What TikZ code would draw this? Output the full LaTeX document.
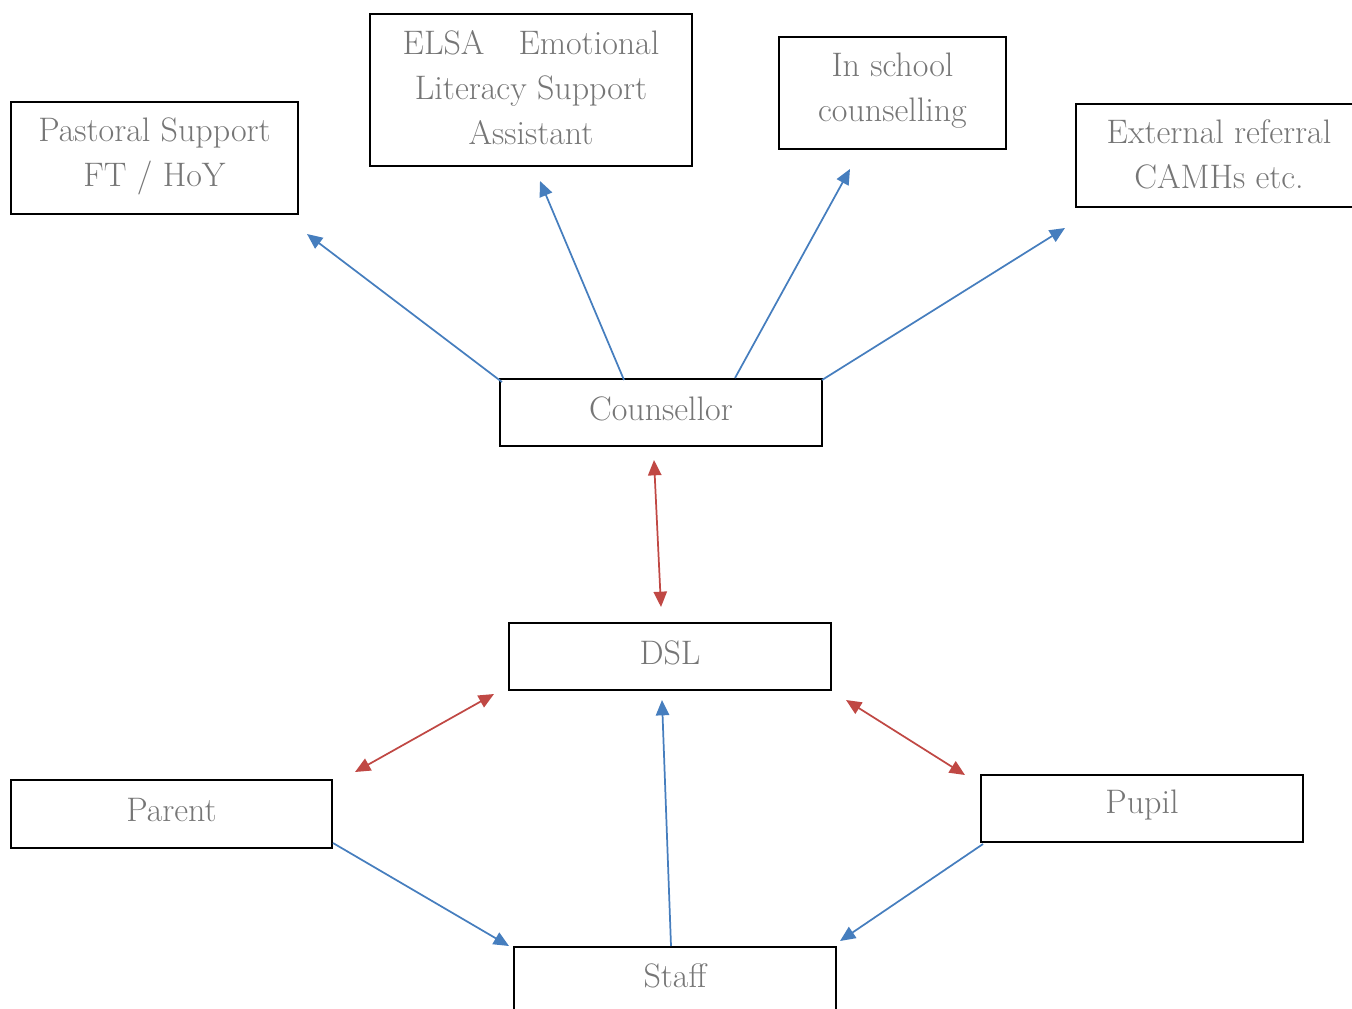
\documentclass[tikz,border=0pt]{standalone}
\usetikzlibrary{arrows.meta}
\definecolor{txtgray}{RGB}{118,118,118}
\definecolor{arrblue}{RGB}{70,126,190}
\definecolor{arrred}{RGB}{192,72,68}
\begin{document}
\begin{tikzpicture}[x=0.75pt,y=-0.75pt,
  frame/.style={draw=black,line width=1.5pt,rectangle,inner sep=0pt},
  lbl/.style={inner sep=0pt,align=center,text=txtgray,font=\fontsize{25.5}{33.75}\selectfont},
  bluearr/.style={draw=arrblue,line width=1.3pt,-{Triangle[length=11.5pt,width=10pt]}},
  redarr/.style={draw=arrred,line width=1.3pt,{Triangle[length=11.5pt,width=10pt]}-{Triangle[length=11.5pt,width=10pt]}}]
\useasboundingbox (0,0) rectangle (1352,1008);
\clip (0,0) rectangle (1352,1008);
% frames
\node[frame,minimum width=215.25pt,minimum height=84pt] (past) at (154.5,158) {};
\node[frame,minimum width=241.5pt,minimum height=114pt] (elsa) at (531,90) {};
\node[frame,minimum width=170.25pt,minimum height=84pt] (insch) at (892.5,93) {};
\node[frame,minimum width=214.5pt,minimum height=77.25pt] (ext) at (1219,155.5) {};
\node[frame,minimum width=241.5pt,minimum height=50.25pt] (couns) at (661,412.5) {};
\node[frame,minimum width=241.5pt,minimum height=50.25pt] (dsl) at (670,656.5) {};
\node[frame,minimum width=240.75pt,minimum height=51pt] (parent) at (171.5,814) {};
\node[frame,minimum width=241.5pt,minimum height=50.25pt] (pupil) at (1142,808.5) {};
\node[frame,minimum width=241.5pt,minimum height=50.25pt] (staff) at (675,980.5) {};
% texts
\node[lbl] (pastT) at (154.5,156) {Pastoral Support\\FT / HoY};
\node[lbl] (elsaT) at (531,88) {ELSA\quad Emotional\\Literacy Support\\Assistant};
\node[lbl] (inschT) at (892.5,91) {In school\\counselling};
\node[lbl] (extT) at (1219,154) {External referral\\CAMHs etc.};
\node[lbl] (counsT) at (661,409) {Counsellor};
\node[lbl] (dslT) at (670,653) {DSL};
\node[lbl] (parentT) at (171.5,810) {Parent};
\node[lbl] (pupilT) at (1142,805) {Pupil};
\node[lbl] (staffT) at (675,976) {Staff};
% free-end coordinates
\coordinate (c1s) at (502,382); \coordinate (c1e) at (307,234);
\coordinate (c2s) at (624,380); \coordinate (c2e) at (540,181);
\coordinate (c3s) at (735,378); \coordinate (c3e) at (850,169);
\coordinate (c4s) at (822,380); \coordinate (c4e) at (1065,228);
\coordinate (r1a) at (654,460); \coordinate (r1b) at (661,607);
\coordinate (r2a) at (355,772); \coordinate (r2b) at (494,694);
\coordinate (r3a) at (846,700); \coordinate (r3b) at (965,775);
\coordinate (b1s) at (333,843); \coordinate (b1e) at (509,946);
\coordinate (b2s) at (671,946); \coordinate (b2e) at (662,700);
\coordinate (b3s) at (983,844); \coordinate (b3e) at (840,941);
\draw[bluearr] (c1s) -- (c1e);
\draw[bluearr] (c2s) -- (c2e);
\draw[bluearr] (c3s) -- (c3e);
\draw[bluearr] (c4s) -- (c4e);
\draw[redarr] (r1a) -- (r1b);
\draw[redarr] (r2a) -- (r2b);
\draw[redarr] (r3a) -- (r3b);
\draw[bluearr] (b1s) -- (b1e);
\draw[bluearr] (b2s) -- (b2e);
\draw[bluearr] (b3s) -- (b3e);
\end{tikzpicture}
\end{document}
